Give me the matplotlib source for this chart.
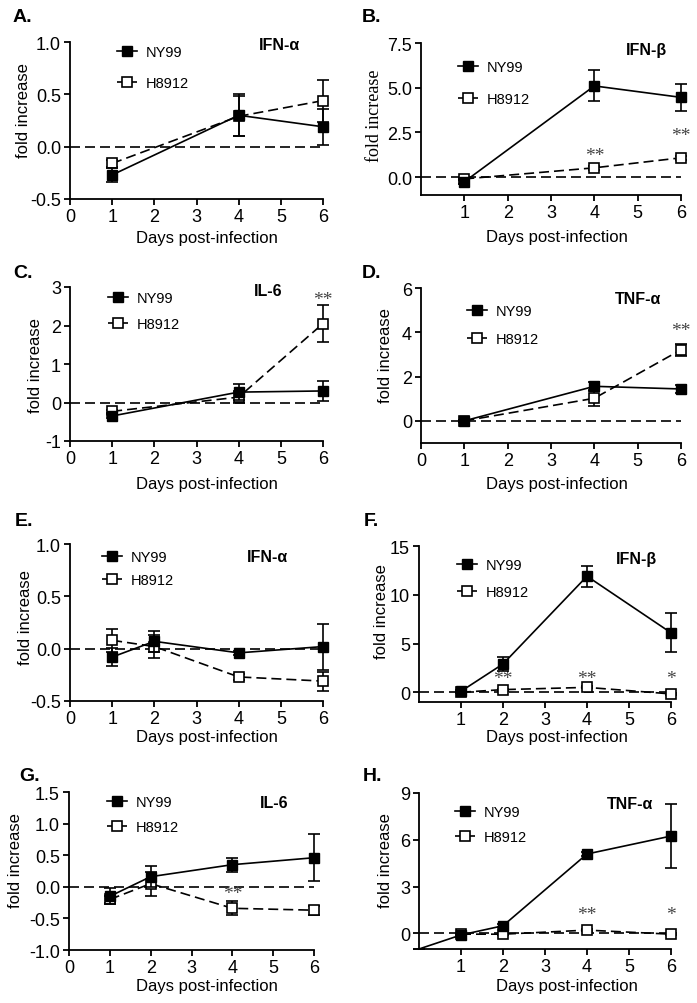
import numpy as np
import matplotlib
matplotlib.use("Agg")
import matplotlib.pyplot as plt
from matplotlib.ticker import FormatStrFormatter

plt.rcParams['font.family'] = ['Liberation Sans', 'DejaVu Sans']
plt.rcParams['axes.unicode_minus'] = False

# ---------------- data ----------------
# A. IFN-alpha
days_a = [1, 4, 6]
ny99_a = [-0.27, 0.30, 0.19]
ny99_a_err = [0.065, 0.20, 0.17]
h8912_a = [-0.16, 0.29, 0.44]
h8912_a_err = [0.03, 0.19, 0.20]

# B. IFN-beta
days_b = [1, 4, 6]
ny99_b = [-0.26, 5.10, 4.46]
ny99_b_err = [0.10, 0.87, 0.76]
h8912_b = [-0.10, 0.52, 1.08]
h8912_b_err = [0.05, 0.12, 0.12]
stars_b = [(4, 1.2, '**'), (6, 2.35, '**')]

# C. IL-6
days_c = [1, 4, 6]
ny99_c = [-0.35, 0.27, 0.30]
ny99_c_err = [0.05, 0.21, 0.27]
h8912_c = [-0.23, 0.14, 2.05]
h8912_c_err = [0.04, 0.15, 0.47]
stars_c = [(6, 2.67, '**')]

# D. TNF-alpha
days_d = [1, 4, 6]
ny99_d = [0.0, 1.56, 1.44]
ny99_d_err = [0.05, 0.20, 0.17]
h8912_d = [0.0, 1.02, 3.21]
h8912_d_err = [0.05, 0.36, 0.27]
stars_d = [(6, 4.1, '**')]

# E. IFN-alpha
days_e = [1, 2, 4, 6]
ny99_e = [-0.08, 0.07, -0.04, 0.02]
ny99_e_err = [0.09, 0.10, 0.02, 0.22]
h8912_e = [0.08, 0.02, -0.27, -0.31]
h8912_e_err = [0.11, 0.11, 0.03, 0.09]

# F. IFN-beta
days_f = [1, 2, 4, 6]
ny99_f = [0.1, 2.9, 11.9, 6.1]
ny99_f_err = [0.1, 0.7, 1.1, 2.0]
h8912_f = [0.0, 0.27, 0.50, -0.17]
h8912_f_err = [0.05, 0.10, 0.10, 0.10]
stars_f = [(2, 1.4, '**'), (4, 1.4, '**'), (6, 1.4, '*')]

# G. IL-6
days_g = [1, 2, 4, 6]
ny99_g = [-0.15, 0.16, 0.35, 0.46]
ny99_g_err = [0.13, 0.17, 0.11, 0.37]
h8912_g = [-0.20, 0.05, -0.34, -0.37]
h8912_g_err = [0.05, 0.19, 0.11, 0.07]
stars_g = [(4, -0.1, '**')]

# H. TNF-alpha (NY99 line starts at the axes corner, day 0)
days_h_ny99 = [0, 1, 2, 4, 6]
ny99_h = [-1.0, -0.1, 0.49, 5.09, 6.24]
ny99_h_err = [0.0, 0.1, 0.1, 0.1, 2.03]
days_h = [1, 2, 4, 6]
h8912_h = [-0.05, -0.05, 0.21, -0.05]
h8912_h_err = [0.05, 0.05, 0.05, 0.05]
stars_h = [(4, 1.2, '**'), (6, 1.2, '*')]

W, H = 697, 1004

# layout in pixels: axes rect, title, legend (left, first row, spacing), xlabel, ylabel
panels = [
    dict(letter='A.', title='IFN-α', rect=(70, 43, 323, 200), tpos=(279, 45),
         ylim=(-0.5, 1.0), yticks=[-0.5, 0.0, 0.5, 1.0], fmt='%.1f', xticks=range(0, 7),
         ny=(days_a, ny99_a, ny99_a_err), h=(days_a, h8912_a, h8912_a_err), stars=[],
         leg=(117, 52, 1.17), xlab=(207, 239), ylab=(23, 111)),
    dict(letter='B.', title='IFN-β', rect=(421, 44, 681, 196), tpos=(646, 50),
         ylim=(-1, 7.5), yticks=[0.0, 2.5, 5.0, 7.5], fmt='%.1f', xticks=range(1, 7),
         ny=(days_b, ny99_b, ny99_b_err), h=(days_b, h8912_b, h8912_b_err), stars=stars_b,
         leg=(458, 67, 1.24), xlab=(557, 238), ylab=(375, 116), serif_ylabel=True),
    dict(letter='C.', title='IL-6', rect=(70, 288, 323, 442), tpos=(268, 292),
         ylim=(-1, 3), yticks=[-1, 0, 1, 2, 3], fmt='%d', xticks=range(0, 7),
         ny=(days_c, ny99_c, ny99_c_err), h=(days_c, h8912_c, h8912_c_err), stars=stars_c,
         leg=(108, 298, 0.83), xlab=(207, 485), ylab=(35, 366)),
    dict(letter='D.', title='TNF-α', rect=(421, 289, 681, 444), tpos=(638, 300),
         ylim=(-1, 6), yticks=[0, 2, 4, 6], fmt='%d', xticks=range(0, 7),
         ny=(days_d, ny99_d, ny99_d_err), h=(days_d, h8912_d, h8912_d_err), stars=stars_d,
         leg=(467, 311, 0.97), xlab=(557, 485), ylab=(385, 356)),
    dict(letter='E.', title='IFN-α', rect=(70, 545, 323, 702), tpos=(267, 558),
         ylim=(-0.5, 1.0), yticks=[-0.5, 0.0, 0.5, 1.0], fmt='%.1f', xticks=range(0, 7),
         ny=(days_e, ny99_e, ny99_e_err), h=(days_e, h8912_e, h8912_e_err), stars=[],
         leg=(102, 557, 0.62), xlab=(207, 738), ylab=(25, 618)),
    dict(letter='F.', title='IFN-β', rect=(419, 547, 671, 703), tpos=(636, 560),
         ylim=(-1, 15), yticks=[0, 5, 10, 15], fmt='%d', xticks=range(1, 7),
         ny=(days_f, ny99_f, ny99_f_err), h=(days_f, h8912_f, h8912_f_err), stars=stars_f,
         leg=(457, 565, 0.90), xlab=(557, 738), ylab=(381, 612)),
    dict(letter='G.', title='IL-6', rect=(69, 793, 314, 951), tpos=(274, 804),
         ylim=(-1.0, 1.5), yticks=[-1.0, -0.5, 0.0, 0.5, 1.0, 1.5], fmt='%.1f', xticks=range(0, 7),
         ny=(days_g, ny99_g, ny99_g_err), h=(days_g, h8912_g, h8912_g_err), stars=stars_g,
         leg=(107, 802, 0.76), xlab=(207, 987), ylab=(15, 861)),
    dict(letter='H.', title='TNF-α', rect=(419, 794, 671, 950), tpos=(630, 805),
         ylim=(-1, 9), yticks=[0, 3, 6, 9], fmt='%d', xticks=range(1, 7),
         ny=(days_h_ny99, ny99_h, ny99_h_err), h=(days_h, h8912_h, h8912_h_err), stars=stars_h,
         leg=(455, 812, 0.76), xlab=(567, 987), ylab=(385, 861)),
]

letter_x = {'A.': 13, 'B.': 362, 'C.': 13, 'D.': 362, 'E.': 15, 'F.': 364, 'G.': 19, 'H.': 363}
letter_y = {'A.': 18, 'B.': 18, 'C.': 273, 'D.': 273, 'E.': 522, 'F.': 522, 'G.': 777, 'H.': 777}

fig = plt.figure(figsize=(W / 100, H / 100), dpi=100)

for p in panels:
    l, t, r, b = p['rect']
    ax = fig.add_axes([l / W, 1 - b / H, (r - l) / W, (b - t) / H])
    ax.set_xlim(0, 6)
    ax.set_ylim(*p['ylim'])
    ax.axhline(0, color='black', lw=1.2, ls=(0, (6, 3)), zorder=1)

    # H8912: dashed, open squares
    d, v, e = p['h']
    ax.errorbar(d, v, yerr=e, fmt='none', ecolor='black', elinewidth=1.2, capsize=4.5,
                capthick=1.2, zorder=2, clip_on=False)
    ax.plot(d, v, color='black', lw=1.2, ls=(0, (6, 3)), marker='s', ms=6.5,
            mfc='white', mec='black', mew=1.2, label='H8912', zorder=3, clip_on=False)

    # NY99: solid, filled squares
    d, v, e = p['ny']
    ax.errorbar(d, v, yerr=e, fmt='none', ecolor='black', elinewidth=1.2, capsize=4.5,
                capthick=1.2, zorder=4, clip_on=False)
    mk = [i for i, x in enumerate(d) if x > 0]
    ax.plot(d, v, color='black', lw=1.2, marker='s', ms=6.5, markevery=mk,
            mfc='black', mec='black', label='NY99', zorder=5, clip_on=False)

    for sx, sy, s in p['stars']:
        ax.text(sx, sy, s, ha='center', va='center', fontsize=14, color='#444444',
                family='Liberation Serif')

    ax.spines['top'].set_visible(False)
    ax.spines['right'].set_visible(False)
    for sp in ('left', 'bottom'):
        ax.spines[sp].set_linewidth(1.3)
    ax.set_xticks(list(p['xticks']))
    ax.set_yticks(p['yticks'])
    ax.yaxis.set_major_formatter(FormatStrFormatter(p['fmt']))
    ax.tick_params(direction='out', length=4.5, width=1.3, labelsize=13, pad=2)

    ax.set_xlabel('Days post-infection', fontsize=12)
    xc, yc = p['xlab']
    ax.xaxis.set_label_coords(xc / W, 1 - (yc - 8) / H, transform=fig.transFigure)
    if p.get('serif_ylabel'):
        ax.set_ylabel('fold increase', fontsize=13, family='Liberation Serif')
    else:
        ax.set_ylabel('fold increase', fontsize=12)
    xc, yc = p['ylab']
    ax.yaxis.set_label_coords((xc + 8) / W, 1 - yc / H, transform=fig.transFigure)

    hl = ax.get_legend_handles_labels()
    lx, ly, lsp = p['leg']
    ax.legend(hl[0][::-1], hl[1][::-1], loc='upper left',
              bbox_to_anchor=(lx / W, 1 - (ly - 6) / H), bbox_transform=fig.transFigure,
              frameon=False, fontsize=10.5, handlelength=1.4, handletextpad=0.55,
              labelspacing=lsp, borderpad=0, borderaxespad=0, numpoints=1)

    tx, ty = p['tpos']
    fig.text(tx / W, 1 - ty / H, p['title'], ha='center', va='center', fontsize=11.5,
             fontweight='bold')
    fig.text(letter_x[p['letter']] / W, 1 - letter_y[p['letter']] / H, p['letter'],
             ha='left', va='center', fontsize=14, fontweight='bold')

fig.savefig('out.png', dpi=100)
